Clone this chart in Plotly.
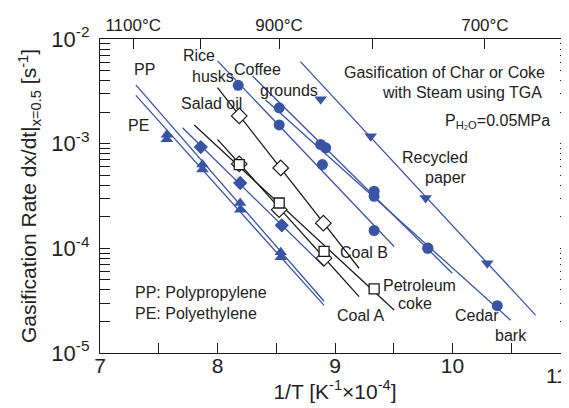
import math
import plotly.graph_objects as go

BLUE = "#3a54a4"
BLACK = "#1a1a1a"

# ---------------- data (x = 1/T [1e-4 K^-1], y = dx/dt [s^-1]) ----------------
pp_x = [7.569, 7.872, 8.193, 8.538]
pp_y = [1.22e-3, 6.31e-4, 2.71e-4, 9.18e-5]
pp_fit_x = [7.305, 8.907]
pp_fit_y = [3.64e-3, 3.12e-5]

pe_x = [7.569, 7.872, 8.193, 8.538]
pe_y = [1.10e-3, 5.65e-4, 2.34e-4, 8.22e-5]
pe_fit_x = [7.305, 8.907]
pe_fit_y = [2.89e-3, 2.85e-5]

salad_x = [7.858, 8.193, 8.547]
salad_y = [9.27e-4, 4.21e-4, 1.66e-4]
salad_fit_x = [7.702, 8.907]
salad_fit_y = [1.42e-3, 6.70e-5]

rice_x = [8.176, 8.525, 8.893, 9.333]
rice_y = [3.61e-3, 1.51e-3, 6.31e-4, 1.48e-4]
rice_fit_x = [8.000, 9.503]
rice_fit_y = [6.18e-3, 1.04e-4]

coffee_x = [8.525, 8.878, 9.333, 9.790]
coffee_y = [2.20e-3, 9.82e-4, 3.51e-4, 1.005e-4]
coffee_fit_x = [8.298, 9.998]
coffee_fit_y = [4.43e-3, 5.78e-5]

cedar_x = [8.921, 9.333, 9.790, 10.381]
cedar_y = [9.12e-4, 3.14e-4, 1.0e-4, 2.83e-5]
cedar_fit_x = [8.408, 10.494]
cedar_fit_y = [2.63e-3, 2.06e-5]

paper_x = [8.878, 9.304, 9.771, 10.296]
paper_y = [2.65e-3, 1.18e-3, 3.03e-4, 7.21e-5]
paper_fit_x = [8.706, 10.707]
paper_fit_y = [6.08e-3, 2.30e-5]

coalb_x = [8.185, 8.538, 8.901]
coalb_y = [1.84e-3, 5.86e-4, 1.74e-4]
coalb_fit_x = [8.000, 9.205]
coalb_fit_y = [3.43e-3, 6.45e-5]

coala_x = [8.185, 8.525, 8.907]
coala_y = [6.4e-4, 2.34e-4, 8.05e-5]
coala_fit_x = [8.000, 9.205]
coala_fit_y = [1.10e-3, 3.46e-5]

petcoke_x = [8.185, 8.525, 8.907, 9.333]
petcoke_y = [6.31e-4, 2.71e-4, 9.34e-5, 4.09e-5]
petcoke_fit_x = [7.802, 9.503]
petcoke_fit_y = [1.51e-3, 2.57e-5]

x_ticks = [7, 7.5, 8, 8.5, 9, 9.5, 10, 10.5, 11]
x_ticktext = ["7", "", "8", "", "9", "", "10", "", ""]
x_last_label = "11"
y_ticks = [1e-5, 1e-4, 1e-3, 1e-2]
y_ticktext = ["10<sup>-5</sup>", "10<sup>-4</sup>", "10<sup>-3</sup>", "10<sup>-2</sup>"]
temps_c = [1100, 1000, 900, 800, 700]
temp_text = ["1100°C", "", "900°C", "", "700°C"]

FONT = "Liberation Sans, Arial, Helvetica, sans-serif"
TXT = "#222"

fig = go.Figure()


def fit(xs, ys, color):
    fig.add_trace(go.Scatter(x=xs, y=ys, mode="lines",
                             line=dict(color=color, width=1.3),
                             showlegend=False, hoverinfo="skip"))


def pts(xs, ys, symbol, color, size, fill=None, lw=0):
    fig.add_trace(go.Scatter(x=xs, y=ys, mode="markers",
                             marker=dict(symbol=symbol, size=size,
                                         color=fill if fill else color,
                                         line=dict(color=color, width=lw)),
                             showlegend=False, hoverinfo="skip"))


fit(pp_fit_x, pp_fit_y, BLUE)
fit(pe_fit_x, pe_fit_y, BLUE)
fit(salad_fit_x, salad_fit_y, BLUE)
fit(rice_fit_x, rice_fit_y, BLUE)
fit(coffee_fit_x, coffee_fit_y, BLUE)
fit(cedar_fit_x, cedar_fit_y, BLUE)
fit(paper_fit_x, paper_fit_y, BLUE)
fit(coalb_fit_x, coalb_fit_y, BLACK)
fit(coala_fit_x, coala_fit_y, BLACK)
fit(petcoke_fit_x, petcoke_fit_y, BLACK)

pts(pp_x, pp_y, "triangle-up", BLUE, 11)
pts(pe_x, pe_y, "triangle-up", BLUE, 11)
pts(salad_x, salad_y, "diamond", BLUE, 11)
pts(rice_x, rice_y, "circle", BLUE, 11)
pts(coffee_x, coffee_y, "circle", BLUE, 11)
pts(cedar_x, cedar_y, "circle", BLUE, 11)
pts(paper_x, paper_y, "triangle-down", BLUE, 11)
pts(coala_x, coala_y, "diamond", BLACK, 12, fill="white", lw=1.2)
pts(coalb_x, coalb_y, "diamond", BLACK, 12, fill="white", lw=1.2)
pts(petcoke_x, petcoke_y, "square", BLACK, 10, fill="white", lw=1.3)

# dummy trace to create the top (temperature) axis
fig.add_trace(go.Scatter(x=[], y=[], xaxis="x2", yaxis="y", showlegend=False, hoverinfo="skip"))


def ann(text, x, ylog, xanchor="center", size=16):
    fig.add_annotation(text=text, x=x, y=ylog, xref="x", yref="y", showarrow=False,
                       xanchor=xanchor, yanchor="middle",
                       font=dict(family=FONT, size=size, color=TXT))


ann("PP", 7.38, -2.292)
ann("PE", 7.329, -2.829)
ann("Rice", 7.843, -2.153)
ann("husks", 7.958, -2.355)
ann("Coffee", 8.344, -2.288)
ann("grounds", 8.612, -2.489)
ann("Salad oil", 7.945, -2.613)
ann("Gasification of Char or Coke", 10.806, -2.321, xanchor="right")
ann("with Steam using TGA", 10.781, -2.513, xanchor="right")
ann("P<sub>H₂O</sub>=0.05MPa", 10.849, -2.785, xanchor="right")
ann("Recycled", 9.853, -3.136)
ann("paper", 9.947, -3.323)
ann("Coal B", 9.250, -4.042)
ann("Petroleum", 9.722, -4.358)
ann("coke", 9.679, -4.526)
ann("Coal A", 9.216, -4.645)
ann("Cedar", 10.207, -4.645)
ann("bark", 10.500, -4.837)
ann("PP: Polypropylene", 7.277, -4.425, xanchor="left")
ann("PE: Polyethylene", 7.277, -4.626, xanchor="left")

# last bottom tick label, kept inside the page like the reference
fig.add_annotation(text=x_last_label, x=549, y=367, xref="paper", yref="paper",
                   showarrow=False, xanchor="center", yanchor="middle",
                   font=dict(family=FONT, size=21, color=TXT))

minor_vals = [k * 10.0 ** e for e in (-5, -4, -3) for k in range(2, 10)]

fig.update_layout(
    width=569, height=408,
    margin=dict(l=92, r=7, t=31, b=63),
    paper_bgcolor="white", plot_bgcolor="white",
    font=dict(family=FONT, color=TXT),
    showlegend=False,
    xaxis=dict(range=[7, 11], tickvals=x_ticks, ticktext=x_ticktext,
               ticks="inside", ticklen=10, tickwidth=1.2, tickcolor=BLACK,
               showline=True, linecolor=BLACK, linewidth=1.3, mirror=False,
               showgrid=False, zeroline=False, ticklabelstandoff=-6,
               tickfont=dict(size=21, family=FONT, color=TXT),
               title=dict(text="1/T [K<sup>-1</sup>×10<sup>-4</sup>]",
                          font=dict(size=21, family=FONT, color=TXT), standoff=2)),
    xaxis2=dict(range=[7, 11], overlaying="x", side="top",
                tickvals=[1e4 / (t + 273.15) for t in temps_c], ticktext=temp_text,
                ticks="inside", ticklen=10, tickwidth=1.2, tickcolor=BLACK,
                showline=True, linecolor=BLACK, linewidth=1.3,
                showgrid=False, zeroline=False,
                tickfont=dict(size=17, family=FONT, color=TXT)),
    yaxis=dict(type="log", range=[-5, -2], tickvals=y_ticks, ticktext=y_ticktext,
               ticks="inside", ticklen=10, tickwidth=1.2, tickcolor=BLACK,
               showline=True, linecolor=BLACK, linewidth=1.3, mirror="allticks",
               showgrid=False, zeroline=False, ticklabelstandoff=5,
               minor=dict(tickvals=minor_vals, ticks="inside", ticklen=5,
                          tickwidth=1, tickcolor=BLACK, showgrid=False),
               tickfont=dict(size=22, family=FONT, color=TXT),
               title=dict(text="Gasification Rate dx/dt|<sub>x=0.5</sub> [s<sup>-1</sup>]",
                          font=dict(size=21, family=FONT, color=TXT), standoff=8)),
)

# convert the pixel placement of the last label into paper units
_a = fig.layout.annotations[-1]
_a.x = (_a.x - 92) / (569 - 92 - 7)
_a.y = (408 - 63 - _a.y) / (408 - 31 - 63)

fig.write_html("out.html")
